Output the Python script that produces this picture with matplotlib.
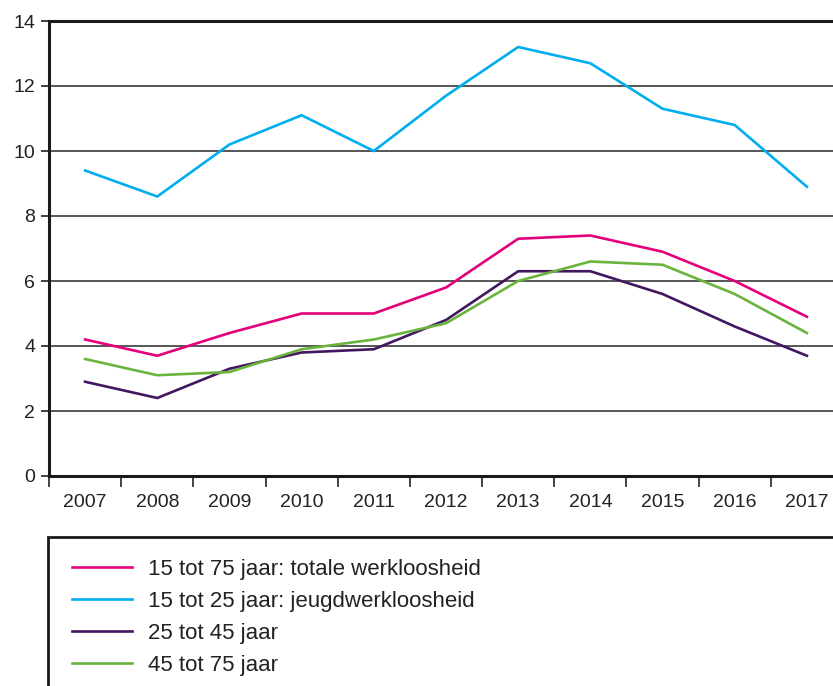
import matplotlib
matplotlib.use("Agg")
import matplotlib.pyplot as plt
from matplotlib.patches import Rectangle
import numpy as np

plt.rcParams['font.family'] = ['Liberation Sans', 'DejaVu Sans']

# Data (werkloosheid in %)
years = ['2007', '2008', '2009', '2010', '2011', '2012', '2013', '2014', '2015', '2016', '2017']
totaal_15_75 = [4.2, 3.7, 4.4, 5.0, 5.0, 5.8, 7.3, 7.4, 6.9, 6.0, 4.9]
jeugd_15_25 = [9.4, 8.6, 10.2, 11.1, 10.0, 11.7, 13.2, 12.7, 11.3, 10.8, 8.9]
leeftijd_25_45 = [2.9, 2.4, 3.3, 3.8, 3.9, 4.8, 6.3, 6.3, 5.6, 4.6, 3.7]
leeftijd_45_75 = [3.6, 3.1, 3.2, 3.9, 4.2, 4.7, 6.0, 6.6, 6.5, 5.6, 4.4]

labels = ['15 tot 75 jaar: totale werkloosheid',
          '15 tot 25 jaar: jeugdwerkloosheid',
          '25 tot 45 jaar',
          '45 tot 75 jaar']
colors = ['#E4007C', '#00AEEF', '#42175F', '#6AB43E']
series = [totaal_15_75, jeugd_15_25, leeftijd_25_45, leeftijd_45_75]

W, H = 833, 686
fig = plt.figure(figsize=(W / 100, H / 100), dpi=100)

# axes extends past the right edge, like the cropped original
left, right, top, bottom = 49, 843, 21, 476
ax = fig.add_axes([left / W, 1 - bottom / H, (right - left) / W, (bottom - top) / H])

x = np.arange(len(years))
handles = []
for vals, c, lab in zip(series, colors, labels):
    h, = ax.plot(x, vals, color=c, lw=1.9, label=lab, solid_joinstyle='miter', zorder=3)
    handles.append(h)

ax.set_xlim(-0.5, len(years) - 0.5)
ax.set_ylim(0, 14)

# horizontal grid
ax.set_yticks(np.arange(0, 15, 2))
ax.yaxis.grid(True, color='#3a3a3a', lw=1.2)
ax.set_axisbelow(True)

ax.set_xticks(x)
ax.set_xticklabels(years)
ax.set_xticks(np.arange(-0.5, len(years), 1), minor=True)
ax.tick_params(axis='x', which='major', length=0, pad=13, labelsize=14, colors='#222222')
ax.tick_params(axis='x', which='minor', length=8, width=1.2, direction='out', color='#222222')
ax.tick_params(axis='y', length=6, width=1.2, pad=4, labelsize=14, colors='#222222')

ax.spines['right'].set_visible(False)
for s in ['left', 'bottom', 'top']:
    ax.spines[s].set_linewidth(2.2)
    ax.spines[s].set_color('#1a1a1a')

# legend box, cropped at the right and bottom
box_top = 537
box = Rectangle((48 / W, -0.1), 1.2, 1 - box_top / H + 0.1, transform=fig.transFigure,
                fill=False, edgecolor='#1a1a1a', lw=2.0, clip_on=False)
fig.patches.append(box)

leg = fig.legend(handles=handles, loc='upper left', bbox_to_anchor=(63 / W, 1 - 550 / H),
                 frameon=False, fontsize=16, handlelength=2.7, handletextpad=0.72,
                 labelspacing=0.49, borderaxespad=0)
for t in leg.get_texts():
    t.set_color('#222222')

fig.savefig('out.png', dpi=100)
